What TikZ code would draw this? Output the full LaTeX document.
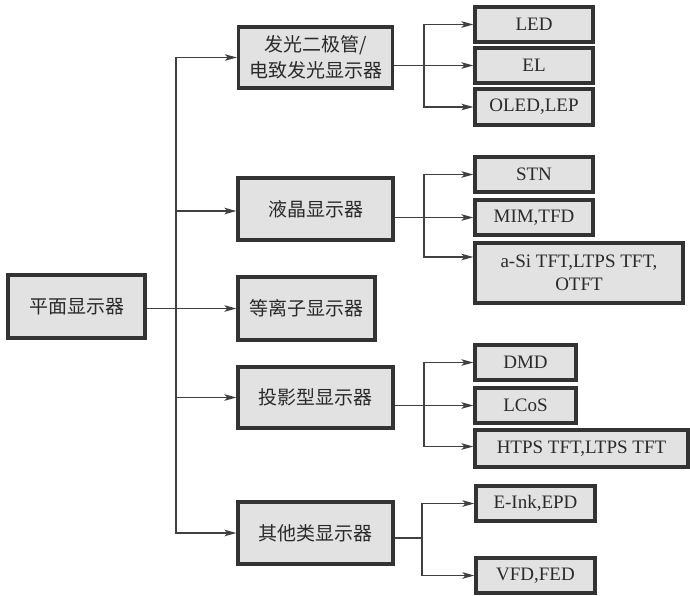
\documentclass[tikz,border=0pt]{standalone}
\usepackage{fontspec}
\setmainfont{Liberation Serif}
\newfontfamily\cjk{Noto Sans CJK SC}
\usetikzlibrary{arrows.meta}
\definecolor{boxfill}{HTML}{E2E2E2}
\definecolor{boxline}{HTML}{333333}
\definecolor{linec}{HTML}{404040}
\definecolor{txt}{HTML}{2A2A2A}
\tikzset{
  box/.style={draw=boxline, line width=3.2pt, fill=boxfill, inner sep=0pt, text=txt, align=center},
  cbox/.style={box, font=\cjk\fontsize{19}{26}\selectfont},
  ebox/.style={box, font=\fontsize{19}{23}\selectfont},
  conn/.style={draw=linec, line width=1.7pt},
  arr/.style={conn, -{Stealth[length=12pt,width=6.5pt,inset=3pt]}},
}
\begin{document}
\begin{tikzpicture}[x=1pt,y=-1pt]
\useasboundingbox (0,0) rectangle (690,595);
% root
\node[cbox, minimum width=137pt, minimum height=63pt] (root) at (76.5,306.5) {平面显示器};
% level 2
\node[cbox, minimum width=154pt, minimum height=61pt] (A1) at (315.5,57.5) {发光二极管/\\电致发光显示器};
\node[cbox, minimum width=155pt, minimum height=62pt] (A2) at (315.5,209) {液晶显示器};
\node[cbox, minimum width=137pt, minimum height=63pt] (A3) at (306.5,308.5) {等离子显示器};
\node[cbox, minimum width=155pt, minimum height=61pt] (A4) at (315.5,397.5) {投影型显示器};
\node[cbox, minimum width=155pt, minimum height=62pt] (A5) at (315.5,533) {其他类显示器};
% level 3
\node[ebox, minimum width=118pt, minimum height=35pt] (LED) at (534,24.5) {LED};
\node[ebox, minimum width=118pt, minimum height=35pt] (EL) at (534,65.5) {EL};
\node[ebox, minimum width=118pt, minimum height=36pt] (OLED) at (534,107) {OLED,LEP};
\node[ebox, minimum width=118pt, minimum height=35pt] (STN) at (534,174.5) {STN};
\node[ebox, minimum width=118pt, minimum height=35pt] (MIM) at (534,217.5) {MIM,TFD};
\node[ebox, minimum width=208pt, minimum height=60pt] (aSi) at (579,273) {a-Si TFT,LTPS TFT,\\OTFT};
\node[ebox, minimum width=101pt, minimum height=35pt] (DMD) at (525.5,362.5) {DMD};
\node[ebox, minimum width=101pt, minimum height=35pt] (LCoS) at (525.5,405.5) {LCoS};
\node[ebox, minimum width=213pt, minimum height=37pt] (HTPS) at (581.5,448.5) {HTPS TFT,LTPS TFT};
\node[ebox, minimum width=119pt, minimum height=35pt] (EInk) at (535.5,503.5) {E-Ink,EPD};
\node[ebox, minimum width=119pt, minimum height=35pt] (VFD) at (535.5,575.5) {VFD,FED};
% trunk
\coordinate (t3) at (176,308.5);
\draw[conn] (root.east |- t3) -- (t3);
\draw[arr] (t3) -- (A3.west);
\draw[arr] (t3) |- (A1.west);
\draw[arr] (t3) |- ([yshift=-2pt]A2.west);
\draw[arr] (t3) |- (A4.west);
\draw[arr] (t3) |- (A5.west);
% group 1
\coordinate (b1) at (424,65.5);
\draw[conn] (A1.east |- b1) -- (b1);
\draw[arr] (b1) |- (LED.west);
\draw[arr] (b1) -- (EL.west);
\draw[arr] (b1) |- (OLED.west);
% group 2
\coordinate (b2) at (424,217.5);
\draw[conn] (A2.east |- b2) -- (b2);
\draw[arr] (b2) |- (STN.west);
\draw[arr] (b2) -- (MIM.west);
\draw[arr] (b2) |- ([yshift=16pt]aSi.west);
% group 3
\coordinate (b3) at (424,405.5);
\draw[conn] (A4.east |- b3) -- (b3);
\draw[arr] (b3) |- (DMD.west);
\draw[arr] (b3) -- (LCoS.west);
\draw[arr] (b3) |- ([yshift=2pt]HTPS.west);
% group 4
\coordinate (b4) at (422,538);
\draw[conn] (A5.east |- b4) -- (b4);
\draw[arr] (b4) |- (EInk.west);
\draw[arr] (b4) |- (VFD.west);
\end{tikzpicture}
\end{document}
